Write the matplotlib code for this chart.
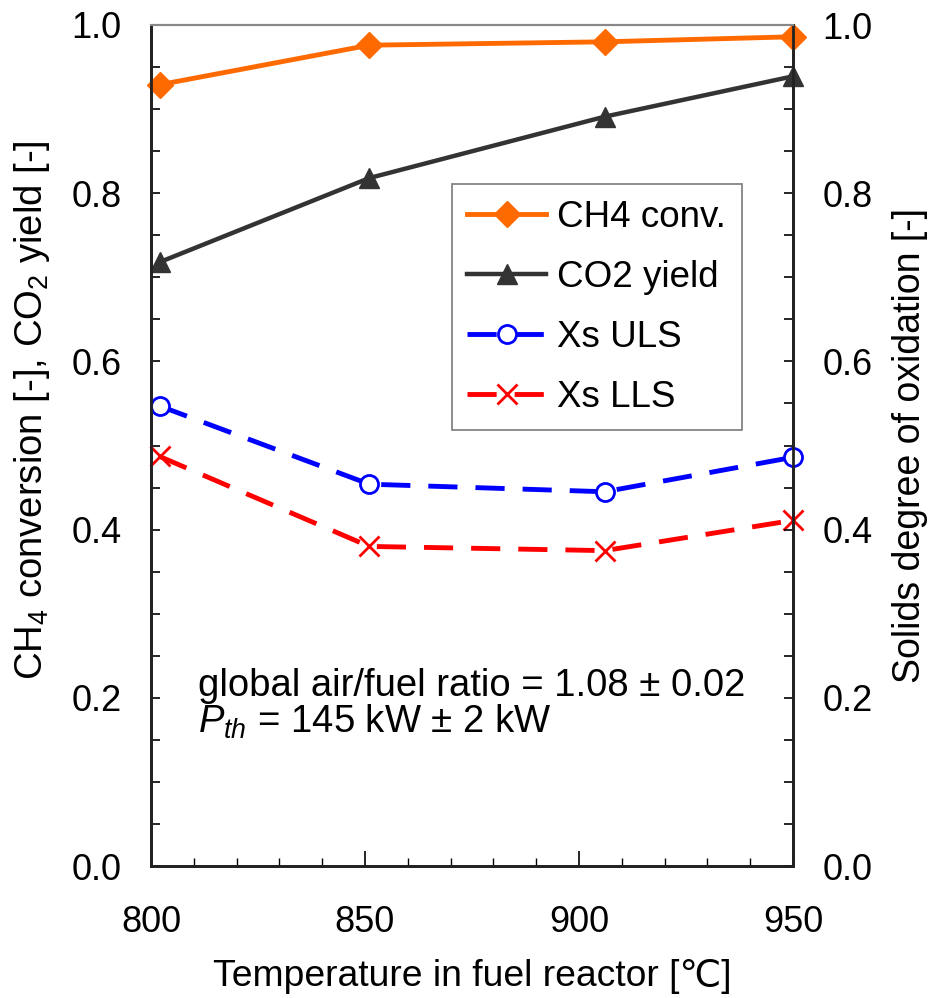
import matplotlib
matplotlib.use("Agg")
import matplotlib.pyplot as plt
from matplotlib.ticker import MultipleLocator, FormatStrFormatter

plt.rcParams['font.family'] = ['Liberation Sans', 'DejaVu Sans']
plt.rcParams['mathtext.fontset'] = 'custom'
plt.rcParams['mathtext.rm'] = 'Liberation Sans'
plt.rcParams['mathtext.it'] = 'Liberation Sans:italic'

temperature = [802, 851, 906, 950]
ch4_conv = [0.929, 0.976, 0.980, 0.986]
co2_yield = [0.718, 0.818, 0.891, 0.939]
xs_uls = [0.547, 0.454, 0.445, 0.486]
xs_lls = [0.487, 0.380, 0.375, 0.411]
series_labels = ["CH4 conv.", "CO2 yield", "Xs ULS", "Xs LLS"]
x_ticks = [800, 850, 900, 950]
y_ticks = [0.0, 0.2, 0.4, 0.6, 0.8, 1.0]

TICK_FS = 26
LEG_FS = 26.5
TXT_FS = 27.5

fig = plt.figure(figsize=(9.29, 9.98), dpi=100)
ax = fig.add_axes([151/929, 1-866/998, (793-151)/929, (866-25)/998])
ax2 = ax.twinx()

ax.plot(temperature, ch4_conv, color='#FF6A00', lw=3.5, marker='D', ms=13,
        label=series_labels[0], zorder=5, clip_on=False)
ax.plot(temperature, co2_yield, color='#333333', lw=3.2, marker='^', ms=15,
        label=series_labels[1], zorder=5, clip_on=False)
ax.plot(temperature, xs_uls, color='#0000FF', lw=3.5, ls=(0, (6, 3.7)), marker='o',
        ms=13, mfc='white', mec='#0000FF', mew=2, label=series_labels[2], zorder=5, clip_on=False)
ax.plot(temperature, xs_lls, color='#FF0000', lw=3.5, ls=(0, (6, 3.7)), marker='x',
        ms=15, mew=2, label=series_labels[3], zorder=5, clip_on=False)

ax.set_xlim(800, 950)
ax.set_ylim(0, 1)
ax2.set_ylim(0, 1)

ax.set_xticks(x_ticks)
ax.xaxis.set_minor_locator(MultipleLocator(10))
ax.set_yticks(y_ticks)
ax.yaxis.set_minor_locator(MultipleLocator(0.05))
ax.yaxis.set_major_formatter(FormatStrFormatter('%.1f'))
ax2.set_yticks(y_ticks)
ax2.yaxis.set_minor_locator(MultipleLocator(0.05))
ax2.yaxis.set_major_formatter(FormatStrFormatter('%.1f'))

ax.tick_params(axis='x', which='major', direction='in', length=11, width=1.2, pad=28, labelsize=TICK_FS)
ax.tick_params(axis='x', which='minor', direction='in', length=6, width=1.0)
ax.tick_params(axis='x', which='both', top=False)
ax.tick_params(axis='y', which='both', direction='in', length=6.5, width=1.2, pad=21, labelsize=TICK_FS, right=False)
ax2.tick_params(axis='y', which='both', direction='in', length=6.5, width=1.2, pad=21, labelsize=TICK_FS)

for a in (ax, ax2):
    a.spines['top'].set_color('#888888')
    a.spines['top'].set_linewidth(1.5)
    for s in ('left', 'right', 'bottom'):
        a.spines[s].set_color('#222222')
        a.spines[s].set_linewidth(2)

ax.set_xlabel("Temperature in fuel reactor [\u2103]", fontsize=26.8, labelpad=14)
ax.set_ylabel("CH$_4$ conversion [-], CO$_2$ yield [-]", fontsize=27.5)
ax.yaxis.set_label_coords(-0.154, 0.542)
ax2.set_ylabel("Solids degree of oxidation [-]", fontsize=27, labelpad=14)

leg = ax.legend(loc='upper left', bbox_to_anchor=((451.7-151)/642, (866-184.3)/841),
                fontsize=LEG_FS, frameon=True, fancybox=False, edgecolor='#666666',
                handlelength=2.15, labelspacing=0.68, borderpad=0.42, handletextpad=0.3,
                borderaxespad=0)
leg.get_frame().set_linewidth(1.3)

ax.text(0.073, 0.214, "global air/fuel ratio = 1.08 \u00b1 0.02", transform=ax.transAxes,
        fontsize=TXT_FS, va='center', ha='left')
ax.text(0.073, 0.171, "$P_{th}$ = 145 kW \u00b1 2 kW", transform=ax.transAxes,
        fontsize=TXT_FS, va='center', ha='left')

fig.savefig("out.png", dpi=100)
